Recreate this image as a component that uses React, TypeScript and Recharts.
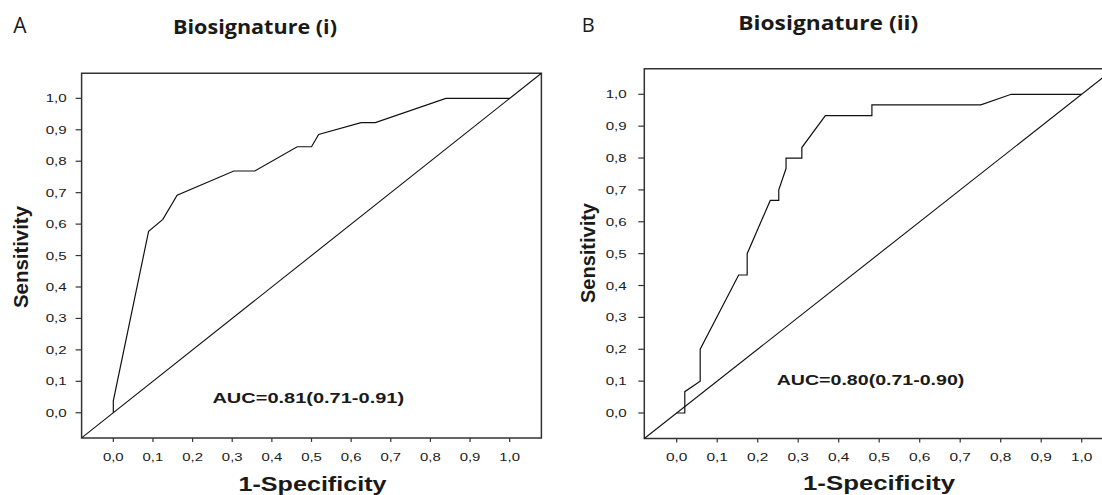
import React from 'react';
import { LineChart, Line, XAxis, YAxis, ReferenceLine, ReferenceArea, ReferenceDot } from 'recharts';

// Shared axis ticks (comma decimal labels)
const TICKS = [0, 0.1, 0.2, 0.3, 0.4, 0.5, 0.6, 0.7, 0.8, 0.9, 1.0];
const TICK_LABELS = ['0,0', '0,1', '0,2', '0,3', '0,4', '0,5', '0,6', '0,7', '0,8', '0,9', '1,0'];
const DOMAIN: [number, number] = [-0.08, 1.08];

// Biosignature (i) ROC curve
const fprA = [0, 0, 0.089, 0.125, 0.161, 0.304, 0.357, 0.464, 0.5, 0.518, 0.625, 0.661, 0.839, 1.0];
const tprA = [0, 0.038, 0.577, 0.615, 0.692, 0.769, 0.769, 0.846, 0.846, 0.885, 0.923, 0.923, 1.0, 1.0];
const aucA = 'AUC=0.81(0.71-0.91)';

// Biosignature (ii) ROC curve
const fprB = [0, 0.02, 0.02, 0.058, 0.058, 0.153, 0.174, 0.174, 0.231, 0.252, 0.252, 0.27, 0.27, 0.309, 0.309, 0.367, 0.482, 0.482, 0.751, 0.826, 1.0];
const tprB = [0, 0, 0.067, 0.1, 0.2, 0.433, 0.433, 0.5, 0.667, 0.667, 0.7, 0.767, 0.8, 0.8, 0.833, 0.933, 0.933, 0.967, 0.967, 1.0, 1.0];
const aucB = 'AUC=0.80(0.71-0.90)';

const SANS = "'Liberation Sans', Arial, sans-serif";
const TITLE_FONT = "'Open Sans', 'Noto Sans', sans-serif";
const INK = '#1a1a1a';

const toPoints = (xs: number[], ys: number[]) => xs.map((x, i) => ({ x, y: ys[i] }));
const fmt = (v: number) => TICK_LABELS[TICKS.findIndex((t) => Math.abs(t - v) < 1e-9)] ?? '';

type PanelProps = {
  left: number;
  width: number;
  marginTop: number;
  marginRight: number;
  yAxisWidth: number;
  xAxisHeight: number;
  yTickMargin: number;
  xLabelOffset: number;
  xLabelLen: number;
  yLabelLen: number;
  points: { x: number; y: number }[];
  auc: string;
  aucX: number;
  aucY: number;
  aucLen: number;
};

function RocPanel(p: PanelProps) {
  const XTick = (props: any) => (
    <text
      x={props.x}
      y={props.y + p.xLabelOffset}
      textAnchor="middle"
      fontSize={11.5}
      fontFamily={SANS}
      fill={INK}
      textLength={p.xLabelLen}
      lengthAdjust="spacingAndGlyphs"
    >
      {fmt(props.payload.value)}
    </text>
  );
  const YTick = (props: any) => (
    <text
      x={props.x}
      y={props.y + 4}
      textAnchor="end"
      fontSize={11.5}
      fontFamily={SANS}
      fill={INK}
      textLength={p.yLabelLen}
      lengthAdjust="spacingAndGlyphs"
    >
      {fmt(props.payload.value)}
    </text>
  );
  const AucLabel = (props: any) => {
    const vb = props.viewBox || {};
    return (
      <text
        x={vb.x}
        y={vb.y}
        fontSize={15}
        fontWeight="bold"
        fontFamily={SANS}
        fill={INK}
        textLength={p.aucLen}
        lengthAdjust="spacingAndGlyphs"
      >
        {p.auc}
      </text>
    );
  };

  return (
    <div style={{ position: 'absolute', left: p.left, top: 0 }}>
      <LineChart
        width={p.width}
        height={495}
        margin={{ top: p.marginTop, right: p.marginRight, bottom: 0, left: 0 }}
      >
        <XAxis
          type="number"
          dataKey="x"
          domain={DOMAIN}
          ticks={TICKS}
          interval={0}
          allowDataOverflow
          height={p.xAxisHeight}
          axisLine={false}
          tickSize={4}
          tickMargin={0}
          tickLine={{ stroke: '#333', strokeWidth: 1.2 }}
          tick={XTick}
        />
        <YAxis
          type="number"
          dataKey="y"
          domain={DOMAIN}
          ticks={TICKS}
          interval={0}
          allowDataOverflow
          width={p.yAxisWidth}
          axisLine={false}
          tickSize={6}
          tickMargin={p.yTickMargin}
          tickLine={{ stroke: '#333', strokeWidth: 1.2 }}
          tick={YTick}
        />
        <ReferenceArea
          x1={DOMAIN[0]}
          x2={DOMAIN[1]}
          y1={DOMAIN[0]}
          y2={DOMAIN[1]}
          fill="none"
          stroke="#333"
          strokeWidth={1.5}
          ifOverflow="visible"
        />
        <ReferenceLine
          segment={[
            { x: DOMAIN[0], y: DOMAIN[0] },
            { x: DOMAIN[1], y: DOMAIN[1] },
          ]}
          stroke="#111"
          strokeWidth={1.1}
          ifOverflow="visible"
        />
        <Line
          data={p.points}
          dataKey="y"
          type="linear"
          stroke="#111"
          strokeWidth={1.2}
          dot={false}
          activeDot={false}
          isAnimationActive={false}
        />
        <ReferenceDot
          x={p.aucX}
          y={p.aucY}
          r={0}
          fill="none"
          stroke="none"
          ifOverflow="visible"
          label={AucLabel}
        />
      </LineChart>
    </div>
  );
}

export default function App() {
  return (
    <div
      style={{
        position: 'absolute',
        left: 0,
        top: 0,
        width: 1102,
        height: 495,
        overflow: 'hidden',
        background: '#fff',
      }}
    >
      <RocPanel
        left={0}
        width={560}
        marginTop={73.2}
        marginRight={18.6}
        yAxisWidth={81.6}
        xAxisHeight={57.1}
        yTickMargin={8.9}
        xLabelOffset={19.4}
        xLabelLen={20.7}
        yLabelLen={21}
        points={toPoints(fprA, tprA)}
        auc={aucA}
        aucX={0.25}
        aucY={0.032}
        aucLen={191.7}
      />
      <RocPanel
        left={580}
        width={560}
        marginTop={68.8}
        marginRight={25.9}
        yAxisWidth={64.3}
        xAxisHeight={56.5}
        yTickMargin={11.6}
        xLabelOffset={18}
        xLabelLen={21.5}
        yLabelLen={21}
        points={toPoints(fprB, tprB)}
        auc={aucB}
        aucX={0.247}
        aucY={0.088}
        aucLen={187.6}
      />
      <svg
        width={1102}
        height={495}
        style={{ position: 'absolute', left: 0, top: 0, pointerEvents: 'none' }}
      >
        <text x={13.3} y={33.3} fontSize={21} fontFamily={TITLE_FONT} fill={INK}>A</text>
        <text
          x={173}
          y={33.5}
          fontSize={20}
          fontWeight="bold"
          fontFamily={TITLE_FONT}
          fill={INK}
          textLength={164}
          lengthAdjust="spacingAndGlyphs"
        >
          Biosignature (i)
        </text>
        <text x={581.7} y={32.3} fontSize={20} fontFamily={TITLE_FONT} fill={INK}>B</text>
        <text
          x={738.3}
          y={30.2}
          fontSize={20}
          fontWeight="bold"
          fontFamily={TITLE_FONT}
          fill={INK}
          textLength={180}
          lengthAdjust="spacingAndGlyphs"
        >
          Biosignature (ii)
        </text>
        <text
          transform="translate(28.3,257) rotate(-90)"
          textAnchor="middle"
          fontSize={20}
          fontWeight="bold"
          fontFamily={SANS}
          fill={INK}
          textLength={102}
          lengthAdjust="spacingAndGlyphs"
        >
          Sensitivity
        </text>
        <text
          transform="translate(595,253) rotate(-90)"
          textAnchor="middle"
          fontSize={20}
          fontWeight="bold"
          fontFamily={SANS}
          fill={INK}
          textLength={100}
          lengthAdjust="spacingAndGlyphs"
        >
          Sensitivity
        </text>
        <text
          x={312.5}
          y={491}
          textAnchor="middle"
          fontSize={20}
          fontWeight="bold"
          fontFamily={SANS}
          fill={INK}
          textLength={148}
          lengthAdjust="spacingAndGlyphs"
        >
          1-Specificity
        </text>
        <text
          x={879}
          y={490.3}
          textAnchor="middle"
          fontSize={20}
          fontWeight="bold"
          fontFamily={SANS}
          fill={INK}
          textLength={152}
          lengthAdjust="spacingAndGlyphs"
        >
          1-Specificity
        </text>
      </svg>
    </div>
  );
}
